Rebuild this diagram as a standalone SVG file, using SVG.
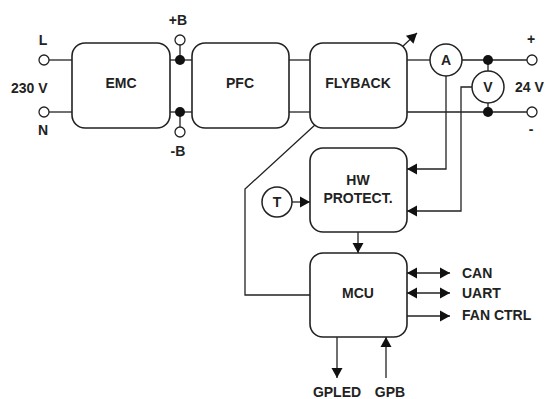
<svg xmlns="http://www.w3.org/2000/svg" width="547" height="399" viewBox="0 0 547 399">
<defs>
<marker id="ah" markerUnits="userSpaceOnUse" markerWidth="14" markerHeight="14" viewBox="0 0 14 14" refX="12" refY="7" orient="auto-start-reverse">
<path d="M2,1.5 L12,7 L2,12.5 Z" fill="#111"/>
</marker>
</defs>
<style>
.box{fill:#fff;stroke:#222;stroke-width:1.6}
.ln{fill:none;stroke:#222;stroke-width:1.3}
.ar{fill:none;stroke:#222;stroke-width:1.3;marker-end:url(#ah)}
.ar2{fill:none;stroke:#222;stroke-width:1.3;marker-end:url(#ah);marker-start:url(#ah)}
.term{fill:#fff;stroke:#222;stroke-width:1.3}
.dot{fill:#111}
.circ{fill:#fff;stroke:#222;stroke-width:1.5}
text{font-family:"Liberation Sans",Arial,sans-serif;font-weight:bold;font-size:14px;fill:#222}
.c{text-anchor:middle}
</style>
<rect width="547" height="399" fill="#fff"/>
<g id="connectors">
<line class="ln" x1="49" y1="60" x2="72" y2="60"/>
<line class="ln" x1="49" y1="112" x2="72" y2="112"/>
<line class="ln" x1="170" y1="60" x2="192" y2="60"/>
<line class="ln" x1="170" y1="112" x2="192" y2="112"/>
<line class="ln" x1="180" y1="45" x2="180" y2="60"/>
<line class="ln" x1="180" y1="112" x2="180" y2="127"/>
<line class="ln" x1="289" y1="60" x2="310" y2="60"/>
<line class="ln" x1="289" y1="112" x2="310" y2="112"/>
<line class="ar" x1="402" y1="47" x2="417" y2="33"/>
<line class="ln" x1="407" y1="60" x2="430" y2="60"/>
<line class="ln" x1="462" y1="60" x2="527" y2="60"/>
<line class="ln" x1="407" y1="112" x2="527" y2="112"/>
<line class="ln" x1="488" y1="60" x2="488" y2="71"/>
<line class="ln" x1="488" y1="103" x2="488" y2="112"/>
<polyline class="ar" points="446,76 446,169 407,169"/>
<polyline class="ar" points="472,87 461,87 461,211 407,211"/>
<line class="ar" x1="292" y1="202" x2="310" y2="202"/>
<line class="ar" x1="358" y1="232" x2="358" y2="253"/>
<polyline class="ln" points="316,124 245,189 245,295 310,295"/>
<line class="ar2" x1="407" y1="273" x2="450" y2="273"/>
<line class="ar2" x1="407" y1="293" x2="450" y2="293"/>
<line class="ar" x1="407" y1="316" x2="450" y2="316"/>
<line class="ar" x1="337" y1="337" x2="337" y2="378"/>
<line class="ar" x1="386" y1="378" x2="386" y2="337"/>
</g>
<g id="terminals">
<circle class="term" cx="44" cy="60" r="5"/>
<circle class="term" cx="44" cy="112" r="5"/>
<circle class="term" cx="180" cy="40" r="5"/>
<circle class="term" cx="180" cy="132" r="5"/>
<circle class="term" cx="532" cy="60" r="5"/>
<circle class="term" cx="532" cy="112" r="5"/>
<circle class="dot" cx="180" cy="60" r="5"/>
<circle class="dot" cx="180" cy="112" r="5"/>
<circle class="dot" cx="488" cy="60" r="5"/>
<circle class="dot" cx="488" cy="112" r="5"/>
</g>
<g id="labels">
<text class="c" x="43" y="45">L</text>
<text class="c" x="43" y="135">N</text>
<text x="11" y="93">230 V</text>
<text class="c" x="178" y="25">+B</text>
<text class="c" x="178" y="156">-B</text>
<text class="c" x="531" y="44">+</text>
<text class="c" x="531" y="134">-</text>
<text x="515" y="92">24 V</text>
<text x="462" y="278">CAN</text>
<text x="462" y="298">UART</text>
<text x="462" y="320">FAN CTRL</text>
<text class="c" x="337" y="397">GPLED</text>
<text class="c" x="390" y="397">GPB</text>
</g>
<g id="emc"><rect class="box" x="72" y="43" width="98" height="85" rx="13"/><text class="c" x="121" y="88">EMC</text></g>
<g id="pfc"><rect class="box" x="192" y="43" width="97" height="85" rx="13"/><text class="c" x="240" y="88">PFC</text></g>
<g id="flyback"><rect class="box" x="310" y="43" width="97" height="85" rx="13"/><text class="c" x="358" y="88">FLYBACK</text></g>
<g id="hw"><rect class="box" x="310" y="148" width="97" height="84" rx="13"/><text class="c" x="358" y="185">HW</text><text class="c" x="358" y="203">PROTECT.</text></g>
<g id="mcu"><rect class="box" x="310" y="253" width="97" height="84" rx="13"/><text class="c" x="358" y="298">MCU</text></g>
<g id="ammeter"><circle class="circ" cx="446" cy="60" r="16"/><text class="c" x="446" y="65">A</text></g>
<g id="voltmeter"><circle class="circ" cx="488" cy="87" r="16"/><text class="c" x="488" y="92">V</text></g>
<g id="temp"><circle class="circ" cx="277" cy="202" r="15"/><text class="c" x="277" y="207">T</text></g>
</svg>
